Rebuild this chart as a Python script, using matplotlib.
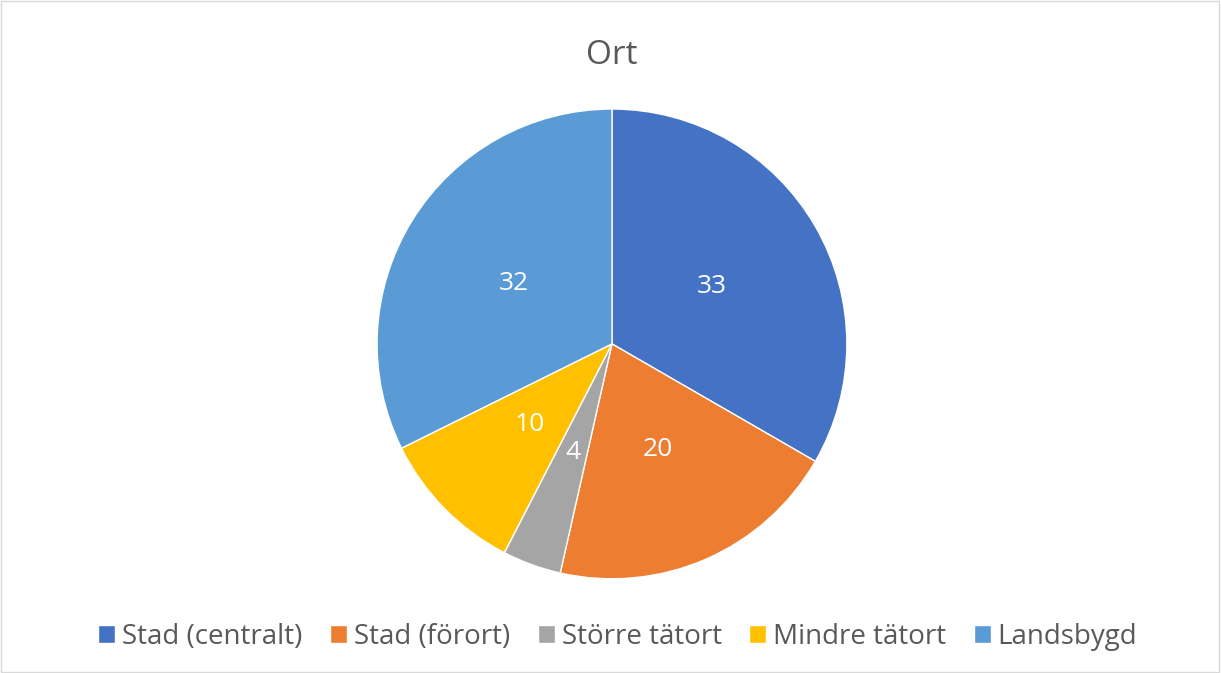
import matplotlib.pyplot as plt
from matplotlib.patches import Rectangle

# Data
categories = ['Stad (centralt)', 'Stad (förort)', 'Större tätort', 'Mindre tätort', 'Landsbygd']
values = [33, 20, 4, 10, 32]
colors = ['#4472C4', '#ED7D31', '#A5A5A5', '#FFC000', '#5B9BD5']

plt.rcParams['font.family'] = ['Open Sans', 'DejaVu Sans']

fig = plt.figure(figsize=(12.21, 6.73), dpi=100)
ax = fig.add_axes([0.3087, 0.140, 0.385, 0.698])

total = sum(values)
wedges, texts, autotexts = ax.pie(
    values, colors=colors, startangle=90, counterclock=False,
    autopct=lambda p: f'{p * total / 100:.0f}', pctdistance=0.49,
    wedgeprops=dict(edgecolor='white', linewidth=1.0),
    textprops=dict(color='white', fontsize=19))
ax.set_xlim(-1, 1)
ax.set_ylim(-1, 1)
ax.set_aspect('equal')

fig.text(0.501, 0.918, 'Ort', ha='center', va='center', fontsize=24, color='#595959')

fig.legend(wedges, categories, loc='center', bbox_to_anchor=(0.506, 0.054), ncol=5,
           frameon=False, fontsize=20, labelcolor='#595959',
           handlelength=0.6, handleheight=0.6, handletextpad=0.25, columnspacing=1.0)

# chart border
fig.patches.append(Rectangle((0.001, 0.001), 0.997, 0.997, transform=fig.transFigure,
                             fill=False, edgecolor='#D9D9D9', linewidth=1))

fig.savefig('out.png', dpi=100)
